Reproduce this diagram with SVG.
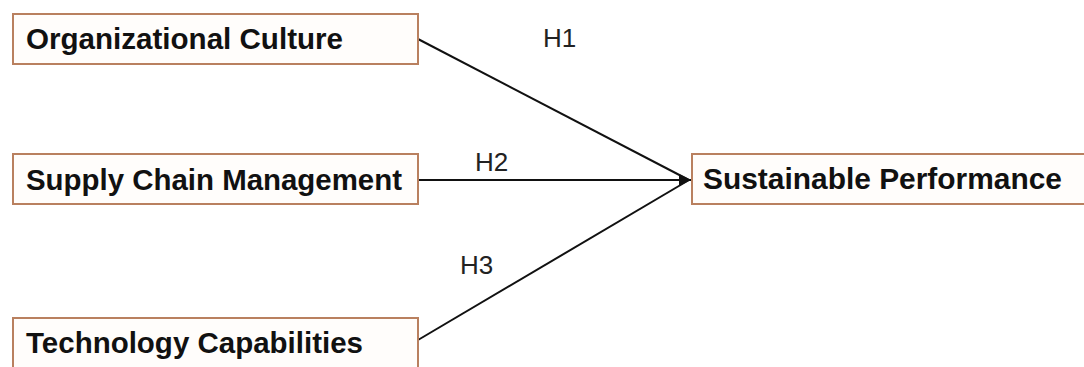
<svg xmlns="http://www.w3.org/2000/svg" width="1084" height="367" viewBox="0 0 1084 367">
  <style>
    .box { fill: #fffdfb; stroke: #b9805f; stroke-width: 2; }
    .lbl { font-family: "Liberation Sans", Arial, sans-serif; font-weight: bold; font-size: 29px; fill: #111; }
    .h { font-family: "Liberation Sans", Arial, sans-serif; font-size: 26px; fill: #222; }
    .conn { stroke: #111; stroke-width: 2; fill: none; }
  </style>
  <defs>
    <marker id="arrow" viewBox="0 0 10 10" refX="10" refY="5" markerWidth="6" markerHeight="6" orient="auto" markerUnits="strokeWidth">
      <path d="M0,0 L10,5 L0,10 z" fill="#111"/>
    </marker>
  </defs>
  <rect width="1084" height="367" fill="#ffffff"/>
  <g id="connectors">
    <line class="conn" x1="418" y1="39" x2="689" y2="180"/>
    <line class="conn" x1="418" y1="180" x2="691" y2="180" marker-end="url(#arrow)"/>
    <line class="conn" x1="418" y1="340" x2="689" y2="180"/>
    <text class="h" x="543" y="47">H1</text>
    <text class="h" x="475" y="171">H2</text>
    <text class="h" x="460" y="274">H3</text>
  </g>
  <g id="node-oc">
    <rect class="box" x="13" y="14" width="405" height="50"/>
    <text class="lbl" x="26" y="49" textLength="317" lengthAdjust="spacingAndGlyphs">Organizational Culture</text>
  </g>
  <g id="node-scm">
    <rect class="box" x="13" y="154" width="405" height="50"/>
    <text class="lbl" x="26" y="190" textLength="376" lengthAdjust="spacingAndGlyphs">Supply Chain Management</text>
  </g>
  <g id="node-tc">
    <rect class="box" x="13" y="318" width="405" height="54"/>
    <text class="lbl" x="26" y="353" textLength="337" lengthAdjust="spacingAndGlyphs">Technology Capabilities</text>
  </g>
  <g id="node-sp">
    <rect class="box" x="692" y="154" width="400" height="50"/>
    <text class="lbl" x="703" y="189" textLength="359" lengthAdjust="spacingAndGlyphs">Sustainable Performance</text>
  </g>
</svg>
